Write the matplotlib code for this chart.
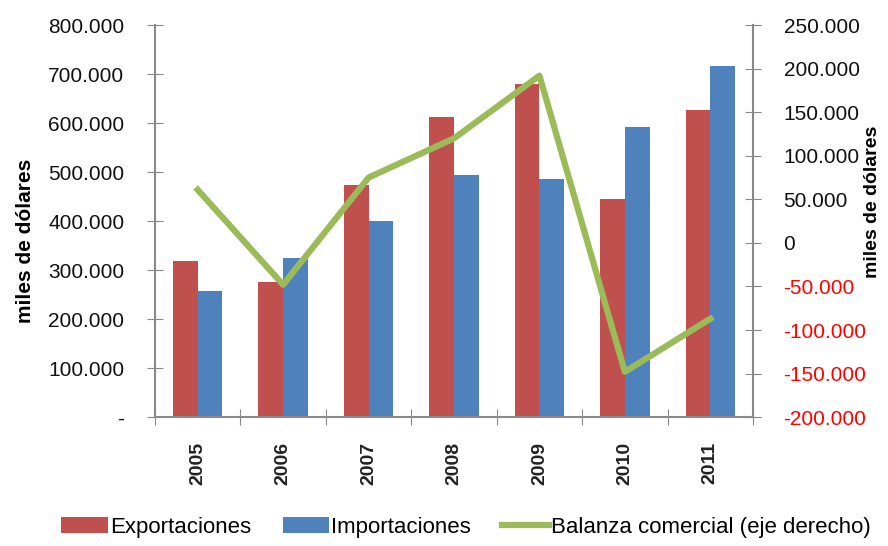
import numpy as np
import matplotlib.pyplot as plt
from matplotlib.ticker import FuncFormatter

plt.rcParams['font.family'] = ['Liberation Sans', 'DejaVu Sans']

# Data (miles de dolares)
years = ['2005', '2006', '2007', '2008', '2009', '2010', '2011']
exportaciones = [318, 276, 473, 612, 680, 446, 627]
importaciones = [258, 324, 400, 494, 486, 592, 716]
balanza = [61, -48, 75, 120, 192, -148, -87]

exp_vals = np.array(exportaciones) * 1000
imp_vals = np.array(importaciones) * 1000
bal_vals = np.array(balanza) * 1000

red = '#C0504D'
blue = '#4F81BD'
green = '#9BBB59'
grey = '#898989'


def fmt_left(v, pos):
    if abs(v) < 1e-6:
        return '-'
    return f'{v:,.0f}'.replace(',', '.')


def fmt_right(v, pos):
    if abs(v) < 1e-6:
        return '0'
    return f'{v:,.0f}'.replace(',', '.')


fig = plt.figure(figsize=(8.88, 5.46), dpi=100)
ax = fig.add_axes([0.1745, 0.236, 0.6735, 0.718])

x = np.arange(len(years))
w = 0.29
ax.bar(x - w / 2, exp_vals, w, color=red, label='Exportaciones')
ax.bar(x + w / 2, imp_vals, w, color=blue, label='Importaciones')

ax.set_xlim(-0.5, len(years) - 0.5)
ax.set_ylim(0, 800000)
ax.set_yticks(np.arange(0, 800001, 100000))
ax.yaxis.set_major_formatter(FuncFormatter(fmt_left))
ax.set_xticks(np.arange(-0.5, len(years), 1))
ax.set_xticklabels([])
ax.set_xticks(x, minor=True)
ax.set_xticklabels(years, minor=True, rotation=90, fontsize=14, fontweight='bold', color='#222222')
ax.tick_params(axis='x', which='minor', length=0, pad=18)
ax.tick_params(axis='x', which='major', direction='inout', length=12, color=grey)
ax.tick_params(axis='y', direction='inout', length=12, color=grey, labelsize=15, pad=16, labelcolor='#111111')
ax.set_ylabel('miles de dólares', fontsize=15, fontweight='bold')
ax.yaxis.set_label_coords(-0.2, 0.45)

for s in ['top', 'right']:
    ax.spines[s].set_visible(False)
for s in ['left', 'bottom']:
    ax.spines[s].set_color(grey)
    ax.spines[s].set_linewidth(1.5)

ax2 = ax.twinx()
ax2.plot(x, bal_vals, color=green, linewidth=4.5, label='Balanza comercial (eje derecho)')
ax2.set_ylim(-200000, 250000)
ax2.set_yticks(np.arange(-200000, 250001, 50000))
ax2.yaxis.set_major_formatter(FuncFormatter(fmt_right))
ax2.tick_params(axis='y', direction='inout', length=12, color=grey, labelsize=15, pad=16)
for lbl, v in zip(ax2.get_yticklabels(), ax2.get_yticks()):
    lbl.set_color('red' if v < 0 else '#111111')
ax2.set_ylabel('miles de dólares', fontsize=14, fontweight='bold', rotation=90)
ax2.yaxis.set_label_coords(1.185, 0.55)
for s in ['top', 'left', 'bottom']:
    ax2.spines[s].set_visible(False)
ax2.spines['right'].set_color(grey)
ax2.spines['right'].set_linewidth(1.5)

h1, l1 = ax.get_legend_handles_labels()
h2, l2 = ax2.get_legend_handles_labels()
fig.legend(h1 + h2, l1 + l2, loc='lower center', ncol=3, frameon=False, fontsize=16,
           bbox_to_anchor=(0.525, -0.022), handlelength=2.1, handletextpad=0.1, columnspacing=1.4)

fig.savefig('out.png', dpi=100)
